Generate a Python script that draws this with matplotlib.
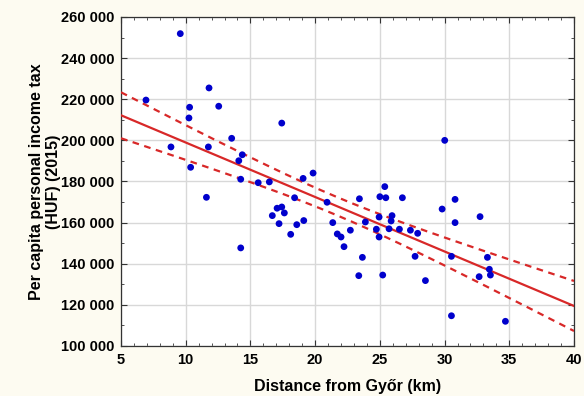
import numpy as np
import matplotlib.pyplot as plt
from matplotlib.ticker import FuncFormatter, MultipleLocator

plt.rcParams['font.family'] = ['Liberation Sans', 'DejaVu Sans']

# distance from Győr (km)
distance = [6.93, 8.86, 9.58, 10.25, 10.3, 10.38, 11.6, 11.75, 11.8, 12.55,
            13.55, 14.1, 14.25, 14.25, 14.37, 15.6, 16.46, 16.69, 17.06, 17.21,
            17.42, 17.42, 17.62, 18.11, 18.41, 18.58, 19.07, 19.12, 19.84, 20.92,
            21.36, 21.71, 22.0, 22.23, 22.72, 23.37, 23.42, 23.65, 23.88, 24.73,
            24.94, 24.94, 25.0, 25.22, 25.38, 25.46, 25.71, 25.87, 25.94, 26.51,
            26.74, 27.36, 27.72, 27.92, 28.52, 29.81, 30.01, 30.53, 30.53, 30.81,
            30.81, 32.67, 32.74, 33.31, 33.46, 33.54, 34.7]
# per capita personal income tax (HUF, 2015)
income_tax = [219600, 196800, 251900, 210900, 216100, 186900, 172300, 196800, 225500, 216600,
              201000, 190100, 181100, 147700, 193000, 179400, 179800, 163400, 167000, 159500,
              167600, 208400, 164700, 154300, 172100, 159000, 181500, 161000, 184100, 169900,
              160000, 154500, 153000, 148300, 156300, 134200, 171600, 143100, 160300, 156800,
              162700, 153000, 172600, 134500, 177500, 172100, 157000, 160800, 163400, 156800,
              172100, 156300, 143600, 154800, 131800, 166600, 200000, 143600, 114700, 171300,
              160000, 133700, 162900, 143100, 137300, 134500, 112000]

x = np.array(distance)
y = np.array(income_tax)

# linear fit + 95% confidence band of the mean
n = len(x)
b, a = np.polyfit(x, y, 1)
resid = y - (a + b * x)
s = np.sqrt(np.sum(resid ** 2) / (n - 2))
sxx = np.sum((x - x.mean()) ** 2)
t = 1.998
xf = np.linspace(5, 40, 200)
yf = a + b * xf
ci = t * s * np.sqrt(1 / n + (xf - x.mean()) ** 2 / sxx)

BG = '#FDFBF1'
RED = '#D82828'
BLUE = '#0000CC'

fig = plt.figure(figsize=(5.84, 3.96), dpi=100)
fig.patch.set_facecolor(BG)
ax = fig.add_axes([0.2072, 0.1263, 0.7757, 0.8308])
ax.set_facecolor('white')

ax.grid(True, color='#D8D8D8', linewidth=1.0, zorder=0)
ax.plot(xf, yf, '-', color=RED, linewidth=1.6, zorder=3)
ax.plot(xf, yf + ci, '--', color=RED, linewidth=1.6, dashes=(3, 2.5), zorder=3)
ax.plot(xf, yf - ci, '--', color=RED, linewidth=1.6, dashes=(3, 2.5), zorder=3)
ax.scatter(x, y, s=24, color=BLUE, edgecolors='none', zorder=4)

ax.set_xlim(5, 40)
ax.set_ylim(100000, 260000)
ax.xaxis.set_major_locator(MultipleLocator(5))
ax.xaxis.set_minor_locator(MultipleLocator(1))
ax.yaxis.set_major_locator(MultipleLocator(20000))
ax.yaxis.set_minor_locator(MultipleLocator(10000))
ax.yaxis.set_major_formatter(FuncFormatter(lambda v, p: f'{int(v):,}'.replace(',', ' ')))

ax.tick_params(which='both', direction='in', top=True, right=True, color='#333333')
ax.tick_params(which='major', length=4, labelsize=10.5, pad=5)
ax.tick_params(which='minor', length=2)
for lbl in ax.get_xticklabels() + ax.get_yticklabels():
    lbl.set_fontweight('bold')
for sp in ax.spines.values():
    sp.set_color('#333333')
    sp.set_linewidth(0.9)

ax.set_xlabel('Distance from Győr (km)', fontsize=11.5, fontweight='bold', labelpad=9)
ax.set_ylabel('Per capita personal income tax\n(HUF) (2015)', fontsize=11.5,
              fontweight='bold', labelpad=0, linespacing=1.1)

fig.savefig('out.png', dpi=100, facecolor=BG)
